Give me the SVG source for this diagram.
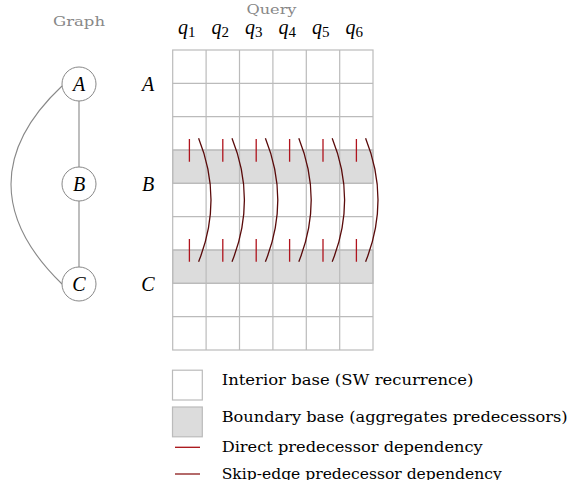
<svg xmlns="http://www.w3.org/2000/svg" width="573" height="480" viewBox="0 0 573 480">
<defs>
<style>
.it{font-family:"Liberation Serif","DejaVu Serif",serif;font-style:italic;font-size:20px;fill:#000;}
.gray{font-family:"DejaVu Serif","Liberation Serif",serif;font-size:13.5px;fill:#888;}
.leg{font-family:"DejaVu Serif","Liberation Serif",serif;font-size:14px;fill:#000;}
.node circle{fill:#fff;stroke:#888;stroke-width:1;}
.cell{fill:#fff;stroke:#bbb;stroke-width:1.2;}
.bnd{fill:#dcdcdc;stroke:#bbb;stroke-width:1.2;}
.tick{stroke:#b0141e;stroke-width:1.3;fill:none;}
.skip{stroke:#5a0a0a;stroke-width:1.3;fill:none;}
.edge{stroke:#888;stroke-width:1.1;fill:none;}
</style>
</defs>
<rect width="573" height="480" fill="#fff"/>
<text class="gray" x="53" y="26" textLength="52" lengthAdjust="spacingAndGlyphs">Graph</text>
<text class="gray" x="246.5" y="14" font-size="12.5" textLength="50" lengthAdjust="spacingAndGlyphs">Query</text>

<g id="edges">
<line class="edge" x1="79" y1="101" x2="79" y2="167"/>
<line class="edge" x1="79" y1="201" x2="79" y2="267"/>
<path class="edge" d="M62,86 C-6,150 -6,218 62,284"/>
</g>
<g id="node-A" class="node"><circle cx="79" cy="84" r="17"/><text class="it" x="79" y="90.8" text-anchor="middle">A</text></g>
<g id="node-B" class="node"><circle cx="79" cy="184" r="17"/><text class="it" x="79" y="190.8" text-anchor="middle">B</text></g>
<g id="node-C" class="node"><circle cx="79" cy="284" r="17"/><text class="it" x="79" y="290.8" text-anchor="middle">C</text></g>

<g id="query-labels">
<text class="it" x="178" y="33.5">q<tspan font-style="normal" font-size="15" dy="3">1</tspan></text>
<text class="it" x="211.5" y="33.5">q<tspan font-style="normal" font-size="15" dy="3">2</tspan></text>
<text class="it" x="245" y="33.5">q<tspan font-style="normal" font-size="15" dy="3">3</tspan></text>
<text class="it" x="278.5" y="33.5">q<tspan font-style="normal" font-size="15" dy="3">4</tspan></text>
<text class="it" x="312" y="33.5">q<tspan font-style="normal" font-size="15" dy="3">5</tspan></text>
<text class="it" x="345.5" y="33.5">q<tspan font-style="normal" font-size="15" dy="3">6</tspan></text>
</g>
<g id="row-labels">
<text class="it" x="148" y="91" text-anchor="middle">A</text>
<text class="it" x="148" y="191" text-anchor="middle">B</text>
<text class="it" x="148" y="291" text-anchor="middle">C</text>
</g>

<g id="grid">
<rect x="172.7" y="150" width="200.3" height="33.3" class="bnd"/>
<rect x="172.7" y="250" width="200.3" height="33.3" class="bnd"/>
<g stroke="#bbb" stroke-width="1.2" fill="none">
<rect x="172.7" y="50" width="200.3" height="300"/>
<path d="M206.1,50V350M239.5,50V350M272.9,50V350M306.3,50V350M339.7,50V350"/>
<path d="M172.7,83.3H373M172.7,116.7H373M172.7,150H373M172.7,183.3H373M172.7,216.7H373M172.7,250H373M172.7,283.3H373M172.7,316.7H373"/>
</g>
</g>

<g id="connectors">
<g class="tick-set">
<path class="tick" d="M189.4,139V161.7M222.8,139V161.7M256.2,139V161.7M289.6,139V161.7M323,139V161.7M356.4,139V161.7"/>
<path class="tick" d="M189.4,239V261.7M222.8,239V261.7M256.2,239V261.7M289.6,239V261.7M323,239V261.7M356.4,239V261.7"/>
</g>
<path class="skip" d="M198.6,138.3Q223.4,200 198.6,261.7"/>
<path class="skip" d="M232,138.3Q256.8,200 232,261.7"/>
<path class="skip" d="M265.4,138.3Q290.2,200 265.4,261.7"/>
<path class="skip" d="M298.8,138.3Q323.6,200 298.8,261.7"/>
<path class="skip" d="M332.2,138.3Q357,200 332.2,261.7"/>
<path class="skip" d="M365.6,138.3Q390.4,200 365.6,261.7"/>
</g>

<g id="legend">
<rect x="172.5" y="370.2" width="29.8" height="29.8" class="cell"/>
<text class="leg" x="221.7" y="385" textLength="251.7" lengthAdjust="spacingAndGlyphs">Interior base (SW recurrence)</text>
<rect x="172.5" y="407" width="29.8" height="29.8" class="bnd"/>
<text class="leg" x="221.7" y="422" textLength="346" lengthAdjust="spacingAndGlyphs">Boundary base (aggregates predecessors)</text>
<line x1="175" y1="447.3" x2="200" y2="447.3" stroke="#a80f14" stroke-width="1.3"/>
<text class="leg" x="221.7" y="452" textLength="261" lengthAdjust="spacingAndGlyphs">Direct predecessor dependency</text>
<line x1="175" y1="474" x2="200" y2="474" stroke="#8b1a1a" stroke-width="1.3"/>
<text class="leg" x="221.7" y="478.5" textLength="280" lengthAdjust="spacingAndGlyphs">Skip-edge predecessor dependency</text>
</g>
</svg>
